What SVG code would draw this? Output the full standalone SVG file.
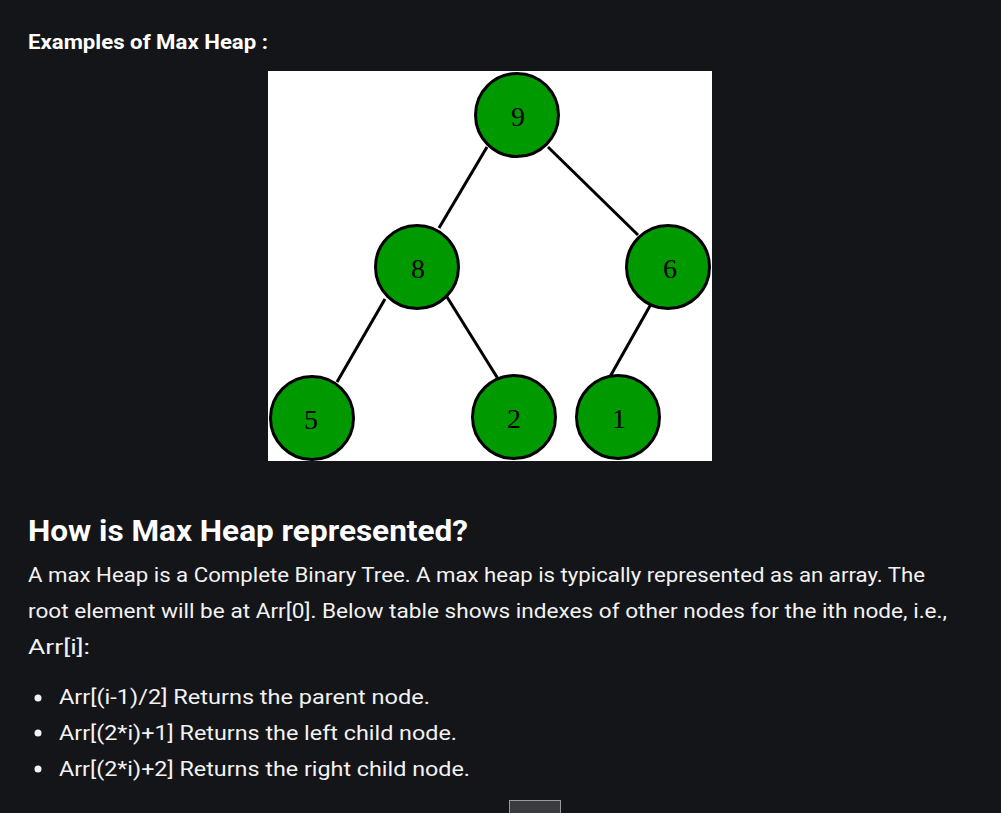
<svg xmlns="http://www.w3.org/2000/svg" width="1001" height="813" viewBox="0 0 1001 813">
<style>
.t{font-family:Roboto,"Liberation Sans",sans-serif;fill:#ffffff}
.h{font-weight:bold}
.p{font-size:20px;fill:#f2f2f2}
.n circle{fill:#009a00;stroke:#000;stroke-width:3}
.n text{font-family:"Liberation Serif",serif;font-size:28px;fill:#000;text-anchor:middle}
#edges line{stroke:#000;stroke-width:3}
</style>
<rect width="1001" height="813" fill="#141519"/>
<text class="t h" x="28" y="49" font-size="21" textLength="240" lengthAdjust="spacingAndGlyphs">Examples of Max Heap :</text>
<rect x="268" y="71" width="444" height="390" fill="#ffffff"/>
<g id="edges">
<line x1="487" y1="147" x2="439" y2="228"/>
<line x1="548" y1="147" x2="638" y2="235"/>
<line x1="385" y1="299" x2="337" y2="382"/>
<line x1="447" y1="297" x2="500" y2="382"/>
<line x1="655" y1="297" x2="607" y2="382"/>
</g>
<g id="n9" class="n"><circle cx="517" cy="115" r="41.5"/><text x="518" y="126">9</text></g>
<g id="n8" class="n"><circle cx="417" cy="267" r="41.5"/><text x="418" y="278">8</text></g>
<g id="n6" class="n"><circle cx="668" cy="267" r="41.5"/><text x="670" y="278">6</text></g>
<g id="n5" class="n"><circle cx="312" cy="418" r="41.5"/><text x="311" y="429">5</text></g>
<g id="n2" class="n"><circle cx="514" cy="417" r="41.5"/><text x="514" y="428">2</text></g>
<g id="n1" class="n"><circle cx="618" cy="417" r="41.5"/><text x="619" y="428">1</text></g>
<text class="t h" x="28" y="541" font-size="29" textLength="440" lengthAdjust="spacingAndGlyphs">How is Max Heap represented?</text>
<text class="t p" x="28" y="582" textLength="897" lengthAdjust="spacingAndGlyphs">A max Heap is a Complete Binary Tree. A max heap is typically represented as an array. The</text>
<text class="t p" x="28" y="618" textLength="919" lengthAdjust="spacingAndGlyphs">root element will be at Arr[0]. Below table shows indexes of other nodes for the ith node, i.e.,</text>
<text class="t p" x="28" y="654" textLength="62" lengthAdjust="spacingAndGlyphs">Arr[i]:</text>
<g fill="#f2f2f2">
<circle cx="38" cy="698" r="3.5"/>
<circle cx="38" cy="733" r="3.5"/>
<circle cx="38" cy="769" r="3.5"/>
</g>
<text class="t p" x="59" y="704" textLength="371" lengthAdjust="spacingAndGlyphs">Arr[(i-1)/2] Returns the parent node.</text>
<text class="t p" x="59" y="740" textLength="398" lengthAdjust="spacingAndGlyphs">Arr[(2*i)+1] Returns the left child node.</text>
<text class="t p" x="59" y="776" textLength="411" lengthAdjust="spacingAndGlyphs">Arr[(2*i)+2] Returns the right child node.</text>
<rect x="509.5" y="800.5" width="51" height="20" fill="#3a3b3e" stroke="#9a9a9a" stroke-width="1"/>
</svg>
